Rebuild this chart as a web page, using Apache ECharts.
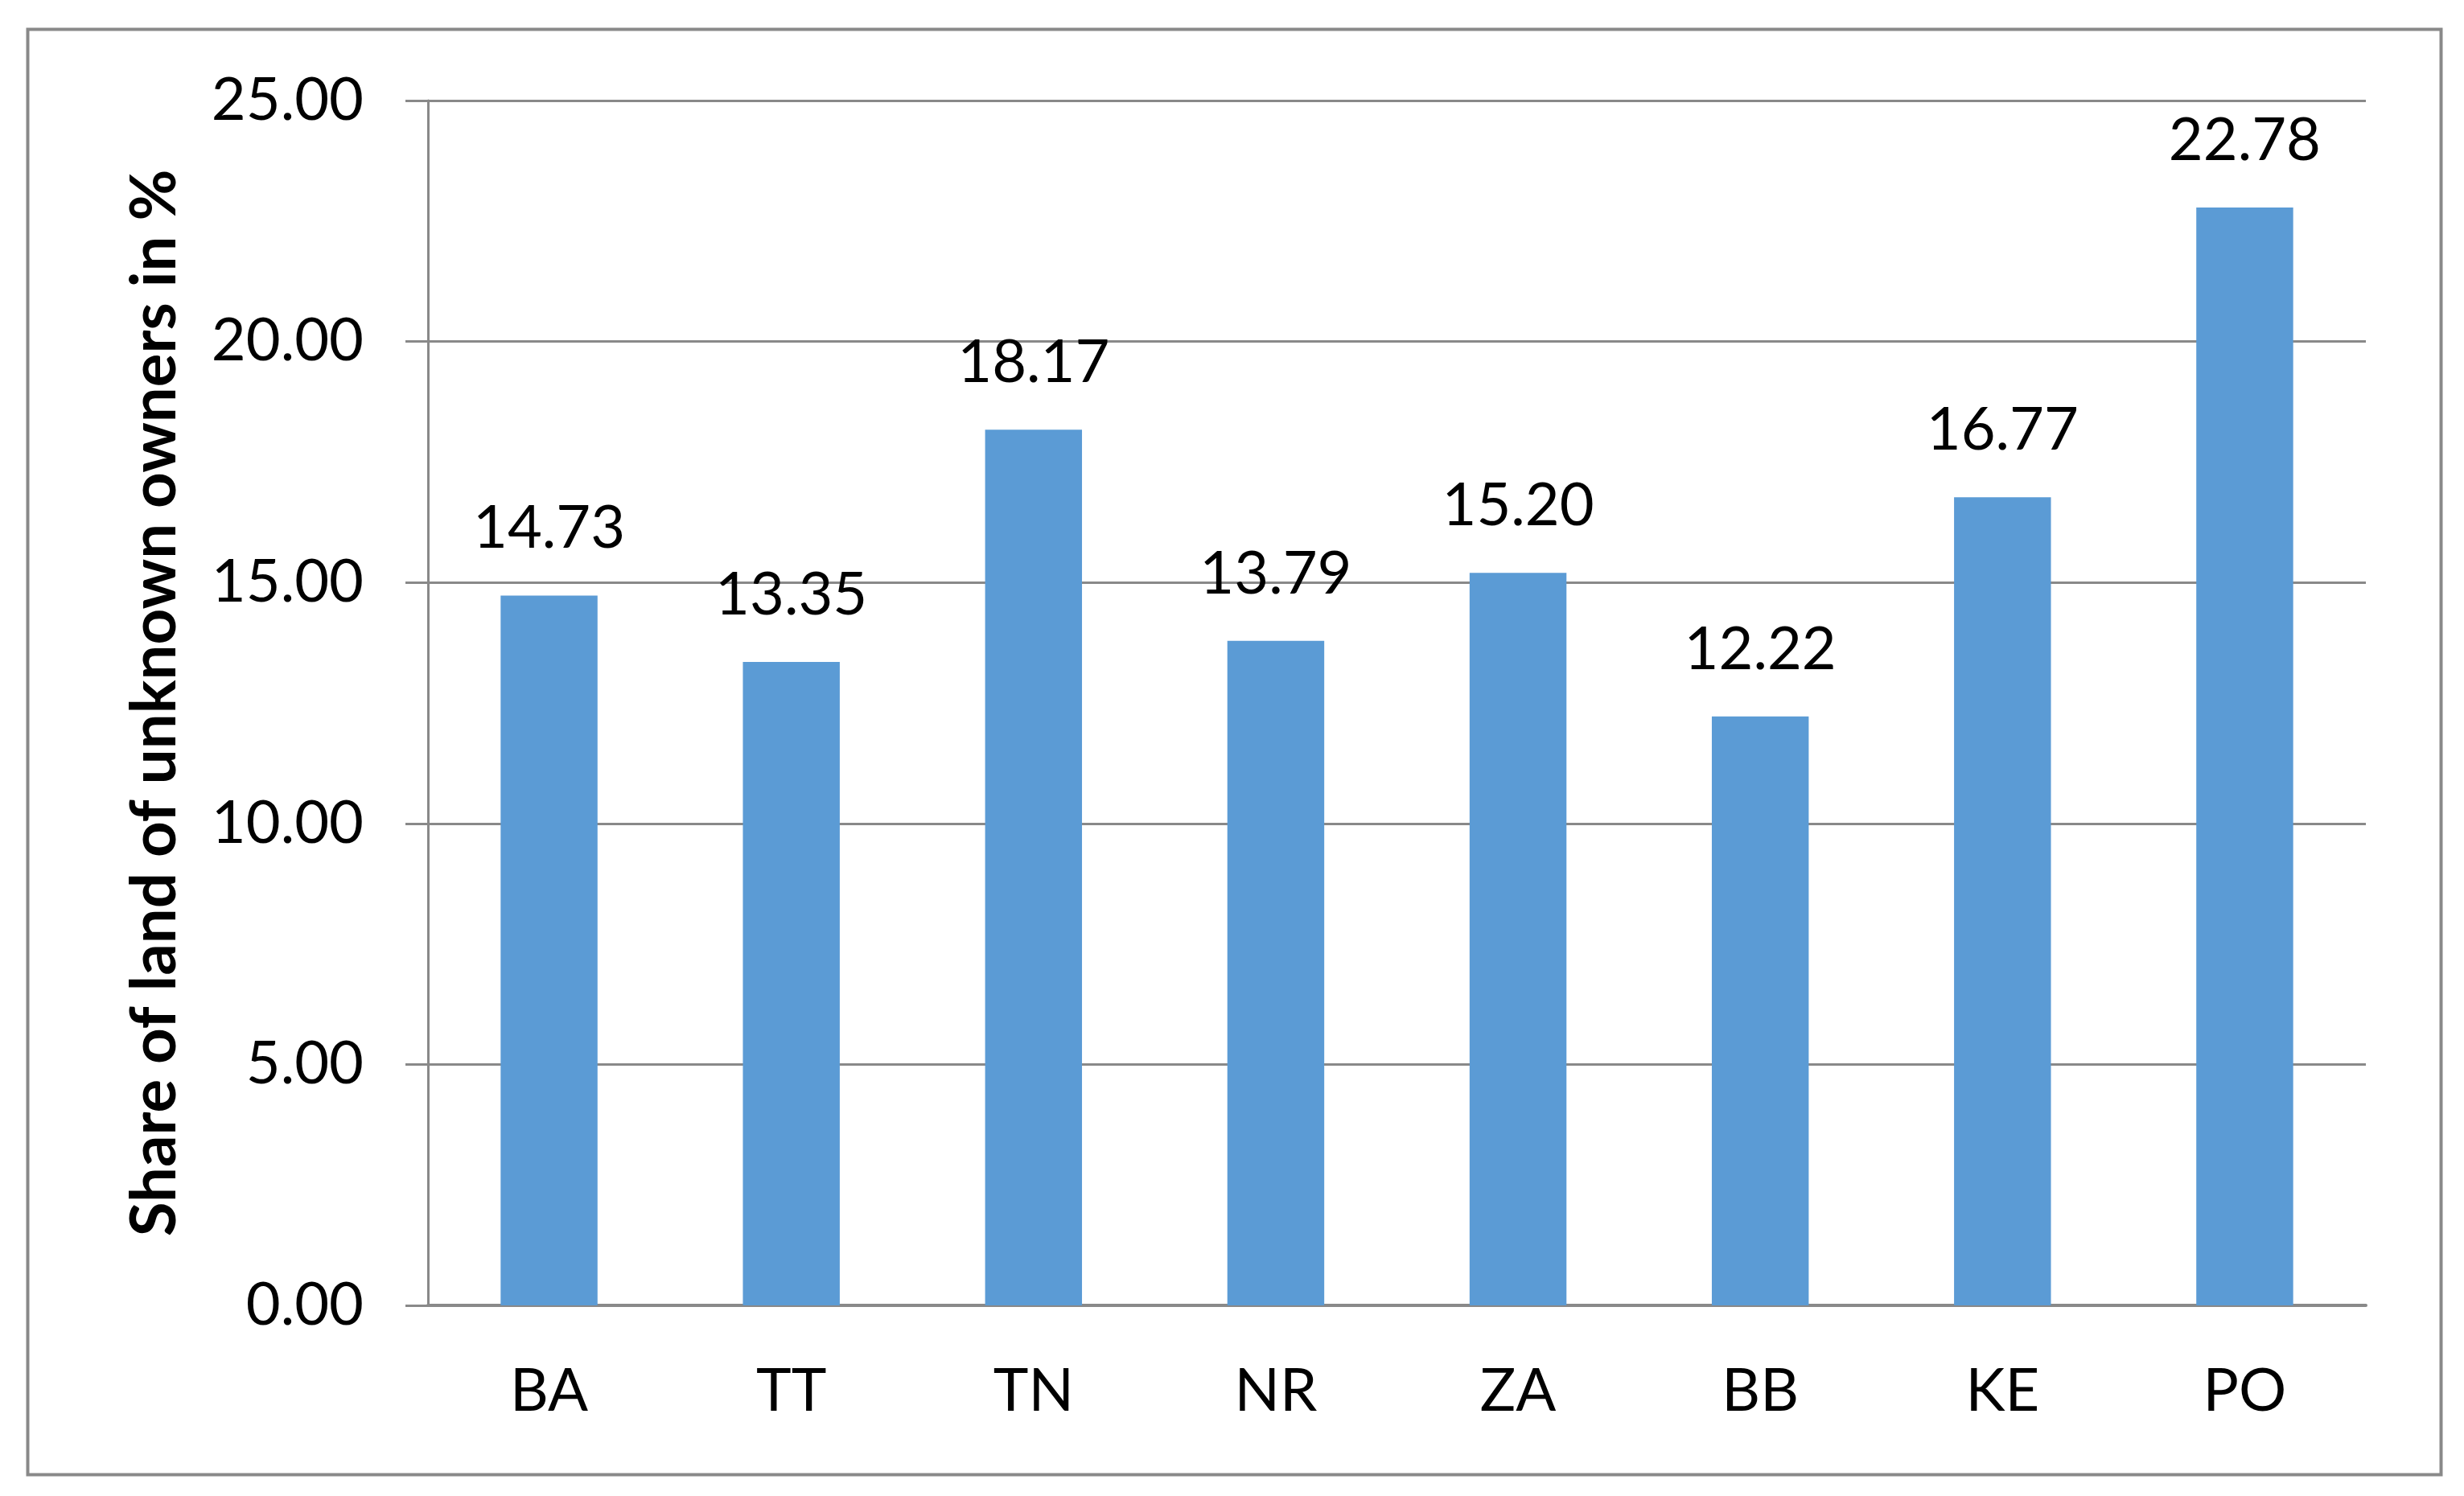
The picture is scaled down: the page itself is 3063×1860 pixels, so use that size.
<!DOCTYPE html>
<html>
<head>
<meta charset="utf-8">
<script src="https://cdn.jsdelivr.net/npm/echarts@6/dist/echarts.min.js"></script>
<style>
  html, body { margin: 0; padding: 0; background: #fff; }
  #ec { width: 3063px; height: 1860px; }
</style>
</head>
<body>
<div id="ec"></div>
<script>
var regions = ["BA", "TT", "TN", "NR", "ZA", "BB", "KE", "PO"];
var shareUnknown = [14.73, 13.35, 18.17, 13.79, 15.2, 12.22, 16.77, 22.78];
var yTitle = "Share of land of unknown owners in %";

var gray = "#898989";
var font = "Lato, 'Open Sans', sans-serif";

var myChart = echarts.init(document.getElementById("ec"));
myChart.setOption({
  animation: false,
  backgroundColor: "#fff",
  graphic: [
    {
      type: "rect",
      left: 32,
      top: 34,
      shape: { width: 3000, height: 1797 },
      style: { fill: "none", stroke: gray, lineWidth: 4 },
      silent: true,
    },
  ],
  grid: {
    left: 532,
    right: 122,
    top: 125,
    bottom: 237,
  },
  xAxis: {
    type: "category",
    data: regions,
    axisLine: { lineStyle: { color: gray, width: 4 } },
    axisTick: { show: false },
    axisLabel: {
      margin: 70,
      fontSize: 74,
      fontFamily: font,
      color: "#000",
    },
  },
  yAxis: {
    type: "value",
    min: 0,
    max: 25,
    interval: 5,
    name: yTitle,
    nameLocation: "middle",
    nameGap: 300,
    nameRotate: 90,
    nameTextStyle: {
      fontSize: 78,
      fontWeight: "bold",
      fontFamily: font,
      color: "#000",
    },
    axisLine: { show: true, lineStyle: { color: gray, width: 3 } },
    axisTick: { show: true, length: 28, lineStyle: { color: gray, width: 3 } },
    splitLine: { lineStyle: { color: gray, width: 3 } },
    axisLabel: {
      margin: 80,
      fontSize: 74,
      fontFamily: font,
      color: "#000",
      formatter: function (v) {
        return v.toFixed(2);
      },
    },
  },
  series: [
    {
      name: "Share",
      type: "bar",
      data: shareUnknown,
      barWidth: "40%",
      itemStyle: { color: "#5B9BD5" },
      label: {
        show: true,
        position: "top",
        distance: 46,
        fontSize: 74,
        fontFamily: font,
        color: "#000",
        formatter: function (p) {
          return p.value.toFixed(2);
        },
      },
    },
  ],
});
</script>
</body>
</html>
